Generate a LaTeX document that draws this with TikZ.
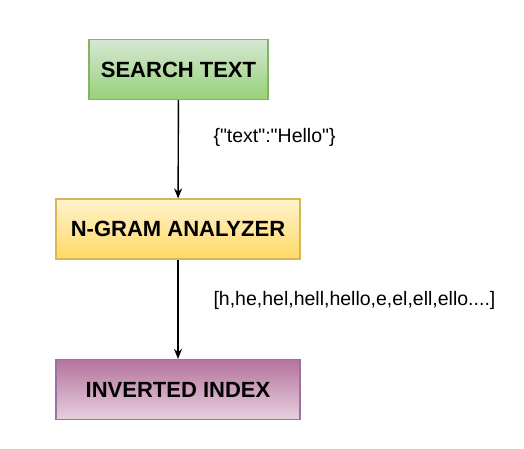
\documentclass[tikz,border=0pt]{standalone}
\usepackage{fontspec}
\setmainfont{Liberation Sans}
\newfontfamily\plainsans{Liberation Sans}
\usetikzlibrary{arrows.meta}

\definecolor{greentop}{HTML}{D5E8D4}
\definecolor{greenbot}{HTML}{97D077}
\definecolor{greenline}{HTML}{82B366}
\definecolor{yellowtop}{HTML}{FFF2CC}
\definecolor{yellowbot}{HTML}{FFD966}
\definecolor{yellowline}{HTML}{D6B656}
\definecolor{purpletop}{HTML}{B5739D}
\definecolor{purplebot}{HTML}{E6D0DE}
\definecolor{purpleline}{HTML}{9673A6}

\begin{document}
\begin{tikzpicture}[x=1pt,y=-1pt,
  stage/.style={draw,line width=1.2pt,minimum height=60pt,text=black,
    font=\fontsize{22}{26}\selectfont\bfseries},
  flow/.style={-{Stealth[length=10pt,width=8pt]},line width=1.4pt},
  payload/.style={anchor=west,font=\plainsans\fontsize{19.5}{23}\selectfont}]
  \useasboundingbox (0,0) rectangle (524,449);

  \node[stage,minimum width=179pt,draw=greenline,top color=greentop,bottom color=greenbot]
    (search) at (178.5,69.5) {SEARCH TEXT};
  \node[stage,minimum width=244pt,draw=yellowline,top color=yellowtop,bottom color=yellowbot]
    (ngram) at (178,229) {N-GRAM ANALYZER};
  \node[stage,minimum width=244pt,draw=purpleline,top color=purpletop,bottom color=purplebot]
    (index) at (178,389.5) {INVERTED INDEX};

  \draw[flow] (search) -- (ngram);
  \draw[flow] (ngram) -- (index);

  \node[payload] (query) at (210,137) {\{"text":"Hello"\}};
  \node[payload] (grams) at (210,300) {[h,he,hel,hell,hello,e,el,ell,ello....]};
\end{tikzpicture}
\end{document}
